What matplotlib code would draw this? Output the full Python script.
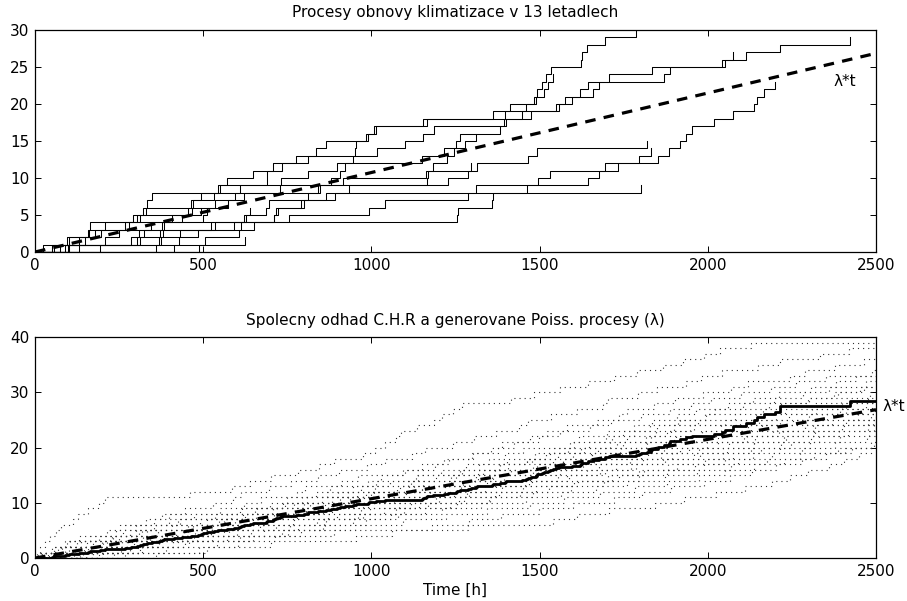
import numpy as np
import matplotlib
matplotlib.use("Agg")
import matplotlib.pyplot as plt

plt.rcParams["font.family"] = ["DejaVu Sans"]
plt.rcParams["font.size"] = 11

# ============================================================
# DATA: intervals between A/C failures, 13 airplanes [h]
# ============================================================
plane_7907 = [194, 15, 41, 29, 33, 181]
plane_7908 = [413, 14, 58, 37, 100, 65, 9, 169, 447, 184, 36, 201, 118, 34, 31, 18,
              18, 67, 57, 62, 7, 22, 34]
plane_7909 = [90, 10, 60, 186, 61, 49, 14, 24, 56, 20, 79, 84, 44, 59, 29, 118, 25,
              156, 310, 76, 26, 44, 23, 62, 130, 208, 70, 101, 208]
plane_7910 = [74, 57, 48, 29, 502, 12, 70, 21, 29, 386, 59, 27, 153, 26, 326]
plane_7911 = [55, 320, 56, 104, 220, 239, 47, 246, 176, 182, 33, 15, 104, 35]
plane_7912 = [23, 261, 87, 7, 120, 14, 62, 47, 225, 71, 246, 21, 42, 20, 5, 12, 120,
              11, 3, 14, 71, 11, 14, 11, 16, 90, 1, 16, 52, 95]
plane_7913 = [97, 51, 11, 4, 141, 18, 142, 68, 77, 80, 1, 16, 106, 206, 82, 54, 31,
              216, 46, 111, 39, 63, 18, 191, 18, 163, 24]
plane_7914 = [50, 44, 102, 72, 22, 39, 3, 15, 197, 188, 79, 88, 46, 5, 5, 36, 22, 139,
              210, 97, 30, 23, 13, 14]
plane_7915 = [359, 9, 12, 270, 603, 3, 104, 2, 438]
plane_7916 = [50, 254, 5, 283, 35, 12]
plane_7917 = [130, 493]
plane_8044 = [487, 18, 100, 7, 98, 5, 85, 91, 43, 230, 3, 130]
plane_8045 = [102, 209, 14, 57, 54, 32, 67, 59, 134, 152, 27, 14, 230, 66, 61, 34]

planes = [plane_7907, plane_7908, plane_7909, plane_7910, plane_7911, plane_7912,
          plane_7913, plane_7914, plane_7915, plane_7916, plane_7917, plane_8044,
          plane_8045]

LAMBDA = 0.01074          # common failure rate [1/h]
lam_t = [0, 2500]         # time span of the lambda*t line

# event times of the simulated Poisson processes (read off the dotted cloud)
poisson_paths = [
    [6, 14, 31, 44, 63, 78, 112, 127, 158, 190, 208, 462, 585, 640, 702, 781, 845, 890,
     975, 1012, 1040, 1072, 1088, 1135, 1185, 1210, 1243, 1268, 1415, 1482, 1560, 1645,
     1722, 1790, 1868, 1925, 1990, 2035, 2128],
    [22, 57, 96, 131, 240, 268, 355, 378, 447, 528, 590, 611, 697, 760, 842, 905, 988,
     1040, 1122, 1160, 1243, 1305, 1371, 1440, 1466, 1533, 1610, 1688, 1702, 1794, 1850,
     1936, 1979, 2041, 2150, 2215, 2333, 2420],
    [41, 88, 105, 190, 262, 301, 399, 472, 551, 620, 672, 780, 803, 911, 960, 1094, 1150,
     1217, 1298, 1356, 1425, 1497, 1522, 1580, 1671, 1735, 1760, 1840, 1902, 1987, 2068,
     2120, 2245, 2290, 2377, 2465],
    [15, 120, 171, 233, 310, 388, 431, 536, 609, 700, 748, 835, 877, 990, 1030, 1101,
     1189, 1230, 1302, 1377, 1388, 1470, 1561, 1649, 1712, 1801, 1888, 1950, 2011, 2099,
     2187, 2262, 2350, 2488],
    [52, 80, 199, 285, 334, 360, 489, 571, 653, 738, 810, 902, 970, 1015, 1133, 1206,
     1282, 1349, 1398, 1451, 1590, 1618, 1699, 1780, 1833, 1907, 1966, 2060, 2134, 2211,
     2307, 2380, 2441],
    [70, 148, 213, 296, 402, 455, 510, 582, 660, 733, 795, 868, 944, 1055, 1140, 1269,
     1320, 1402, 1487, 1542, 1601, 1697, 1749, 1828, 1911, 1993, 2022, 2106, 2198, 2283,
     2361, 2470],
    [33, 102, 226, 270, 365, 493, 566, 658, 719, 818, 883, 957, 1075, 1119, 1251, 1333,
     1405, 1476, 1555, 1632, 1709, 1760, 1845, 1900, 1971, 2080, 2163, 2219, 2301, 2386,
     2452],
    [98, 166, 289, 342, 420, 505, 561, 625, 707, 771, 853, 931, 1010, 1109, 1193, 1264,
     1380, 1463, 1531, 1622, 1730, 1815, 1880, 1947, 2050, 2142, 2230, 2317, 2395, 2482],
    [11, 60, 154, 251, 319, 470, 548, 690, 774, 870, 963, 1048, 1127, 1236, 1311, 1366,
     1493, 1571, 1655, 1740, 1819, 1905, 1980, 2039, 2151, 2240, 2322, 2411, 2497],
    [86, 177, 245, 377, 468, 540, 631, 729, 806, 889, 977, 1102, 1219, 1309, 1393, 1480,
     1577, 1661, 1744, 1826, 1901, 1989, 2073, 2161, 2252, 2339, 2410, 2489],
    [142, 256, 327, 415, 519, 603, 694, 778, 842, 921, 1023, 1100, 1177, 1289, 1360,
     1441, 1526, 1619, 1710, 1795, 1877, 1964, 2048, 2127, 2214, 2301, 2393, 2471],
    [44, 130, 203, 322, 440, 598, 689, 760, 883, 991, 1090, 1175, 1266, 1378, 1457, 1548,
     1629, 1713, 1802, 1869, 1952, 2029, 2119, 2205, 2296, 2373, 2458],
    [28, 76, 137, 229, 301, 408, 596, 722, 847, 976, 1066, 1168, 1259, 1344, 1472, 1561,
     1677, 1769, 1860, 1944, 2031, 2117, 2194, 2288, 2369, 2447],
    [117, 218, 349, 481, 577, 678, 766, 872, 969, 1082, 1191, 1290, 1388, 1477, 1555,
     1640, 1728, 1808, 1894, 1975, 2064, 2141, 2225, 2312, 2402, 2484],
    [63, 159, 274, 371, 455, 530, 649, 741, 856, 949, 1121, 1247, 1338, 1469, 1588, 1681,
     1773, 1872, 1960, 2044, 2137, 2233, 2315, 2399, 2476],
    [190, 311, 424, 571, 680, 782, 865, 948, 1037, 1118, 1202, 1285, 1371, 1458, 1582,
     1693, 1788, 1866, 1977, 2057, 2138, 2227, 2318, 2406, 2492],
    [94, 209, 337, 452, 563, 670, 771, 899, 995, 1142, 1261, 1379, 1490, 1602, 1703,
     1810, 1908, 1992, 2075, 2159, 2248, 2330, 2418, 2494],
    [152, 283, 411, 527, 641, 757, 860, 974, 1072, 1168, 1276, 1366, 1451, 1597, 1735,
     1851, 1963, 2052, 2133, 2216, 2305, 2392, 2480],
    [74, 181, 293, 437, 601, 716, 838, 960, 1097, 1235, 1350, 1480, 1592, 1690, 1795,
     1880, 1989, 2090, 2190, 2281, 2377, 2473],
    [236, 389, 541, 647, 752, 861, 944, 1078, 1209, 1327, 1461, 1563, 1669, 1761, 1873,
     1968, 2070, 2177, 2275, 2388, 2486],
    [172, 305, 458, 637, 792, 951, 1093, 1222, 1345, 1470, 1574, 1680, 1783, 1879, 1973,
     2051, 2136, 2228, 2316, 2409, 2493],
    [268, 512, 604, 713, 889, 1288, 1540, 1610, 1705, 1842, 1930, 2025, 2110, 2190, 2243,
     2298, 2359, 2405, 2451],
    [361, 488, 702, 955, 1061, 1180, 1291, 1384, 1497, 1599, 1720, 1803, 1891, 1990,
     2066, 2130, 2203, 2279, 2350, 2428],
    [39, 145, 260, 383, 477, 552, 629, 711, 789, 880, 937, 1062, 1149, 1238, 1317, 1409,
     1499, 1540, 1598, 1675, 1748, 1830, 1891, 1958, 2097, 2202, 2310, 2398, 2477],
    [18, 67, 124, 222, 281, 353, 426, 617, 705, 801, 907, 984, 1113, 1227, 1331, 1415,
     1479, 1571, 1653, 1741, 1817, 1900, 1982, 2120, 2265, 2354, 2497],
    [135, 247, 368, 474, 523, 584, 661, 728, 805, 861, 929, 1009, 1086, 1154, 1237, 1318,
     1383, 1462, 1519, 1583, 1647, 1715, 1781, 1848, 1917, 1996, 2096, 2181, 2299, 2374,
     2463],
    [9, 50, 89, 163, 214, 254, 330, 397, 614, 743, 852, 998, 1151, 1272, 1362, 1494,
     1607, 1712, 1823, 1918, 1997, 2109, 2213, 2320, 2412, 2499],
    [201, 317, 446, 609, 733, 856, 985, 1057, 1160, 1255, 1352, 1443, 1529, 1615, 1716,
     1797, 1883, 1971, 2046, 2127, 2219, 2308, 2389, 2475],
]

T_MAX = 2500

# ============================================================
# common cumulative hazard estimate (Nelson-Aalen)
# ============================================================
end_times = np.array([np.sum(p) for p in planes])
all_events = np.sort(np.concatenate([np.cumsum(p) for p in planes]))
at_risk = np.array([np.sum(end_times >= t) for t in all_events])
chr_t = np.concatenate([[0], all_events, [T_MAX]])
chr_y = np.concatenate([[0], np.cumsum(1.0 / at_risk)])
chr_y = np.append(chr_y, chr_y[-1])


def style_axes(ax):
    ax.tick_params(direction="in", top=True, right=True, length=4, width=0.7,
                   labelsize=11, pad=4)
    for s in ax.spines.values():
        s.set_linewidth(0.9)


fig = plt.figure(figsize=(9.07, 6.01), dpi=100)

# -------- top: renewal processes --------
ax1 = fig.add_axes([0.0386, 0.5807, 0.9272, 0.3694])
for p in planes:
    t = np.concatenate([[0], np.cumsum(p)])
    ax1.step(t, np.arange(len(t)), where="post", color="black", lw=0.75)
ax1.plot(lam_t, [LAMBDA * x for x in lam_t], color="black", lw=2.3,
         linestyle=(0, (3.3, 2.6)))
ax1.text(2375, 23, "λ*t", fontsize=11, va="center", ha="left")
ax1.set_xlim(0, 2500)
ax1.set_ylim(0, 30)
ax1.set_xticks([0, 500, 1000, 1500, 2000, 2500])
ax1.set_yticks([0, 5, 10, 15, 20, 25, 30])
ax1.set_title("Procesy obnovy klimatizace v 13 letadlech", fontsize=11, pad=9)
style_axes(ax1)

# -------- bottom: C.H.R estimate and Poisson processes --------
ax2 = fig.add_axes([0.0386, 0.0715, 0.9272, 0.3677])
for p in poisson_paths:
    t = np.concatenate([[0], p, [T_MAX + 50]])
    n = np.concatenate([np.arange(len(p) + 1), [len(p)]])
    ax2.step(t, n, where="post", color="0.2", lw=0.8, linestyle=(0, (1, 3.6)))
ax2.step(chr_t, chr_y, where="post", color="black", lw=2.0, zorder=5)
ax2.plot(lam_t, [LAMBDA * x for x in lam_t], color="black", lw=2.3,
         linestyle=(0, (3.3, 2.6)), zorder=6)
ax2.text(2518, 27.4, "λ*t", fontsize=11, va="center", ha="left", clip_on=False)
ax2.set_xlim(0, 2500)
ax2.set_ylim(0, 40)
ax2.set_xticks([0, 500, 1000, 1500, 2000, 2500])
ax2.set_yticks([0, 10, 20, 30, 40])
ax2.set_title("Spolecny odhad C.H.R a generovane Poiss. procesy (λ)", fontsize=11,
              pad=9)
ax2.set_xlabel("Time [h]", fontsize=11, labelpad=3)
style_axes(ax2)

fig.savefig("out.png", dpi=100)
